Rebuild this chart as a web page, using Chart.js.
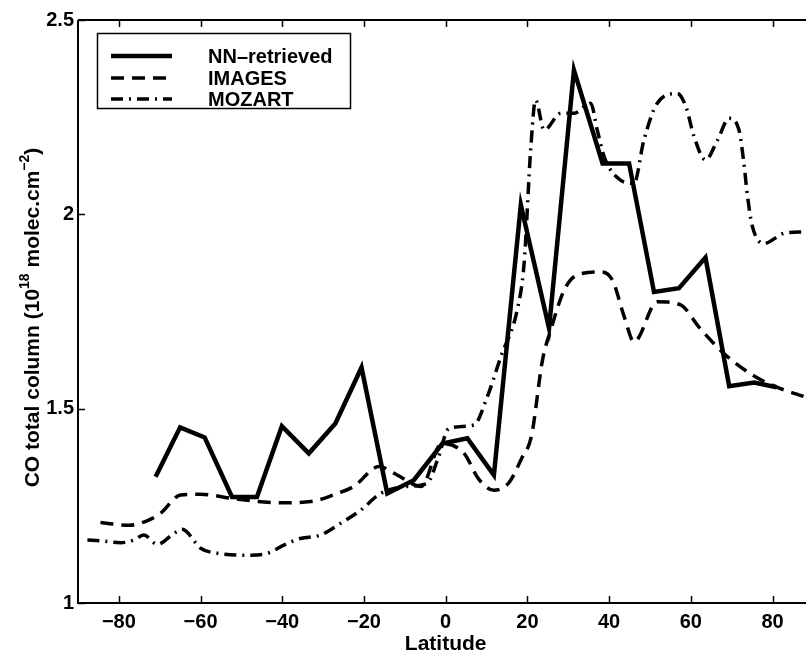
<!DOCTYPE html>
<html>
<head>
<meta charset="utf-8">
<script src="https://cdn.jsdelivr.net/npm/chart.js@4.4.1/dist/chart.umd.min.js"></script>
<style>
  body { margin: 0; background: #fff; }
  #wrap { width: 806px; height: 651px; position: relative; }
</style>
</head>
<body>
<div id="wrap"><canvas id="co_chart"></canvas></div>
<script>
const xTicks = [-80, -60, -40, -20, 0, 20, 40, 60, 80];
const yTicks = [1, 1.5, 2, 2.5];

const nnLat = [-71, -65, -59, -52.3, -46.2, -40.1, -33.5, -27, -20.6, -14.3, -7.8, -0.8, 5.3, 11.8,
  18.4, 25.3, 31.4, 38.4, 44.9, 51, 57.1, 63.6, 69.4, 75.5, 81];
const nnCol = [1.325, 1.452, 1.426, 1.273, 1.273, 1.455, 1.385, 1.462, 1.606, 1.282, 1.316, 1.41, 1.424, 1.329,
  2.024, 1.707, 2.371, 2.131, 2.131, 1.80, 1.81, 1.889, 1.558, 1.567, 1.555];

const imagesLat = [-84.5, -77.5, -73, -69.8, -64.9, -60, -52.3, -41, -33, -27, -22.5, -16.3, -12, -6, -1,
  4.5, 8, 11.8, 15.5, 18.5, 21, 23.7, 25.7, 29, 32.2, 37.9, 40.8, 43.7, 46.1, 51.8, 57.5, 62, 68.1, 75.5, 81.2, 88];
const imagesCol = [1.207, 1.200, 1.212, 1.231, 1.278, 1.280, 1.269, 1.258, 1.261, 1.280, 1.300, 1.351, 1.330, 1.300, 1.41,
  1.385, 1.32, 1.29, 1.31, 1.37, 1.43, 1.625, 1.702, 1.805, 1.844, 1.852, 1.831, 1.737, 1.672, 1.775, 1.767, 1.71, 1.642, 1.584, 1.555, 1.53];

const mozartLat = [-87.7, -84.5, -79.6, -76.3, -73.9, -70.6, -66.5, -64.5, -60, -55.9, -47.7, -43.6, -39.6, -36,
  -30.6, -25.7, -20.8, -15.9, -9.4, -4.5, -2, 0.8, 6.9, 10.2, 13.5, 17.5, 19.2, 20.8, 22, 24.1, 28.2, 31.4,
  35.5, 37.1, 38.8, 42.8, 46.1, 48.5, 51.8, 56.7, 58.8, 60.8, 63.6, 66.5, 69.4, 71.8, 73, 73.9, 75.1, 77.9, 82.8, 88];
const mozartCol = [1.162, 1.16, 1.155, 1.162, 1.175, 1.151, 1.179, 1.19, 1.141, 1.128, 1.123, 1.128, 1.149, 1.165,
  1.175, 1.205, 1.239, 1.282, 1.30, 1.308, 1.368, 1.449, 1.458, 1.531, 1.634, 1.754, 1.874, 2.165, 2.294, 2.217, 2.26, 2.26,
  2.286, 2.217, 2.148, 2.088, 2.08, 2.19, 2.286, 2.311, 2.277, 2.2, 2.14, 2.19, 2.247, 2.217, 2.131, 2.045, 1.968, 1.925, 1.951, 1.955];

const FONT = '"Liberation Sans", Arial, Helvetica, sans-serif';

function toPoints(xs, ys) {
    return xs.map(function(x, i) { return {x: x, y: ys[i]}; });
}

function minus(v) {
    return String(v).replace('-', '\u2212');
}

// frame, inward ticks, axis titles and boxed legend
const framePlugin = {
    id: 'frame',
    afterDraw(chart) {
        const ctx = chart.ctx;
        const a = chart.chartArea;
        const xs = chart.scales.x, ys = chart.scales.y;
        ctx.save();
        ctx.strokeStyle = '#000';
        ctx.lineWidth = 2;
        ctx.beginPath();
        ctx.moveTo(a.left, a.top); ctx.lineTo(a.right + 2, a.top);
        ctx.moveTo(a.left, a.top); ctx.lineTo(a.left, a.bottom);
        ctx.lineTo(a.right + 2, a.bottom);
        ctx.stroke();

        ctx.lineWidth = 1.5;
        ctx.beginPath();
        xTicks.forEach(function(v) {
            const px = Math.round(xs.getPixelForValue(v)) + 0.5;
            ctx.moveTo(px, a.bottom); ctx.lineTo(px, a.bottom - 7);
            ctx.moveTo(px, a.top); ctx.lineTo(px, a.top + 7);
        });
        yTicks.forEach(function(v) {
            const py = Math.round(ys.getPixelForValue(v)) + 0.5;
            ctx.moveTo(a.left, py); ctx.lineTo(a.left + 7, py);
        });
        ctx.stroke();

        ctx.fillStyle = '#000';
        ctx.font = 'bold 21px ' + FONT;
        ctx.textAlign = 'center';
        ctx.textBaseline = 'alphabetic';
        ctx.fillText('Latitude', xs.getPixelForValue(0), 650);

        // y title with superscripts
        const parts = [
            {t: 'CO total column (10', sup: false},
            {t: '18', sup: true},
            {t: ' molec.cm', sup: false},
            {t: '\u22122', sup: true},
            {t: ')', sup: false}
        ];
        let total = 0;
        parts.forEach(function(p) {
            ctx.font = (p.sup ? 'bold 14px ' : 'bold 21px ') + FONT;
            p.w = ctx.measureText(p.t).width;
            total += p.w;
        });
        ctx.translate(39, (a.top + a.bottom) / 2 + 6);
        ctx.rotate(-Math.PI / 2);
        ctx.textAlign = 'left';
        let cx = -total / 2;
        parts.forEach(function(p) {
            ctx.font = (p.sup ? 'bold 14px ' : 'bold 21px ') + FONT;
            ctx.fillText(p.t, cx, p.sup ? -10 : 0);
            cx += p.w;
        });
        ctx.setTransform(1, 0, 0, 1, 0, 0);

        // legend
        ctx.lineWidth = 1.5;
        ctx.strokeRect(97.5, 33.5, 253, 75);
        const rows = [56, 78, 99];
        chart.data.datasets.forEach(function(ds, i) {
            ctx.save();
            ctx.lineWidth = ds.borderWidth;
            ctx.setLineDash(ds.borderDash || []);
            ctx.beginPath();
            ctx.moveTo(111, rows[i]); ctx.lineTo(172, rows[i]);
            ctx.stroke();
            ctx.restore();
            ctx.font = 'bold 20px ' + FONT;
            ctx.textAlign = 'left';
            ctx.textBaseline = 'middle';
            ctx.fillText(ds.label, 208, rows[i] + 1);
        });
        ctx.restore();
    }
};

new Chart(document.getElementById('co_chart'), {
    type: 'line',
    data: {
        datasets: [
            {
                label: 'NN\u2013retrieved',
                data: toPoints(nnLat, nnCol),
                borderColor: '#000',
                borderWidth: 4.5,
                borderDash: [],
                pointRadius: 0,
                tension: 0
            },
            {
                label: 'IMAGES',
                data: toPoints(imagesLat, imagesCol),
                borderColor: '#000',
                borderWidth: 3.5,
                borderDash: [13, 8],
                pointRadius: 0,
                cubicInterpolationMode: 'monotone'
            },
            {
                label: 'MOZART',
                data: toPoints(mozartLat, mozartCol),
                borderColor: '#000',
                borderWidth: 3.5,
                borderDash: [12, 6, 2, 6],
                pointRadius: 0,
                cubicInterpolationMode: 'monotone'
            }
        ]
    },
    options: {
        responsive: true,
        maintainAspectRatio: false,
        animation: false,
        layout: { padding: { top: 20, right: 0, left: 0, bottom: 0 } },
        plugins: {
            legend: { display: false },
            tooltip: { enabled: false }
        },
        scales: {
            x: {
                type: 'linear',
                min: -90,
                max: 88.2,
                grid: { display: false, drawTicks: false },
                border: { display: false },
                afterBuildTicks: function(scale) {
                    scale.ticks = xTicks.map(function(v) { return {value: v}; });
                },
                afterFit: function(scale) { scale.height = 48; },
                ticks: {
                    color: '#000',
                    padding: 7,
                    maxRotation: 0,
                    font: { family: FONT, size: 20, weight: 'bold' },
                    callback: function(v) { return minus(v); }
                }
            },
            y: {
                min: 1,
                max: 2.5,
                grid: { display: false, drawTicks: false },
                border: { display: false },
                afterBuildTicks: function(scale) {
                    scale.ticks = yTicks.map(function(v) { return {value: v}; });
                },
                afterFit: function(scale) { scale.width = 78; },
                ticks: {
                    color: '#000',
                    padding: 4,
                    font: { family: FONT, size: 20, weight: 'bold' },
                    callback: function(v) { return String(v); }
                }
            }
        }
    },
    plugins: [framePlugin]
});
</script>
</body>
</html>
